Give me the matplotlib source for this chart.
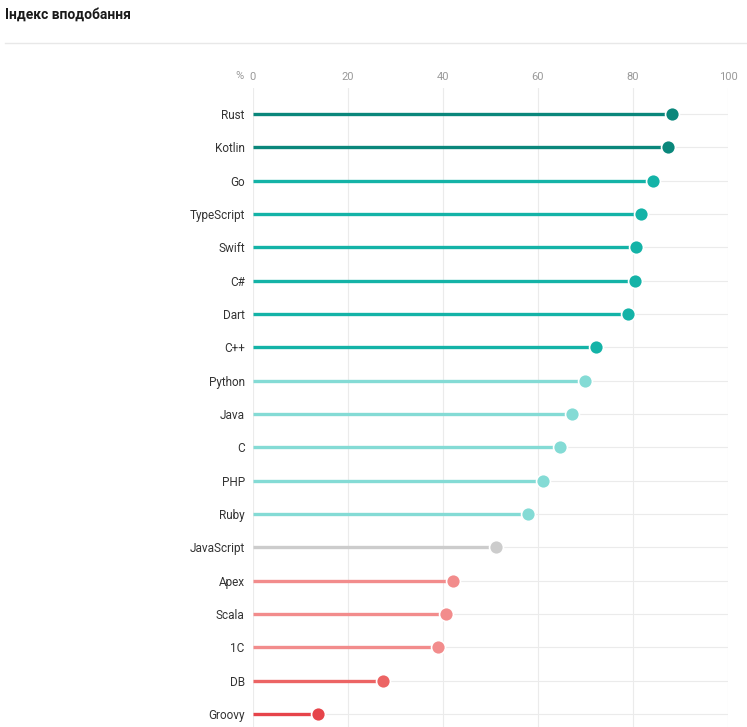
import matplotlib.pyplot as plt

languages = ['Rust', 'Kotlin', 'Go', 'TypeScript', 'Swift', 'C#', 'Dart', 'C++',
             'Python', 'Java', 'C', 'PHP', 'Ruby', 'JavaScript',
             'Apex', 'Scala', '1C', 'DB', 'Groovy']
values = [88.2, 87.4, 84.2, 81.7, 80.6, 80.4, 78.9, 72.2,
          69.9, 67.2, 64.6, 61.1, 57.9, 51.2,
          42.1, 40.6, 38.9, 27.4, 13.7]
colors = ['#0a877b', '#0a877b', '#14b3a7', '#14b3a7', '#14b3a7', '#14b3a7', '#14b3a7', '#14b3a7',
          '#84dbd5', '#84dbd5', '#84dbd5', '#84dbd5', '#84dbd5', '#cccccc',
          '#f28c8c', '#f28c8c', '#f28c8c', '#ec6464', '#e6444a']
xticks = [0, 20, 40, 60, 80, 100]

plt.rcParams['font.family'] = ['Roboto', 'DejaVu Sans']

fig = plt.figure(figsize=(7.47, 7.27), dpi=100)
W, H = 747, 727
ax = fig.add_axes([253 / W, 0, (728 - 253) / W, (727 - 88) / H])

for i, (v, c) in enumerate(zip(values, colors)):
    ax.plot([0, v], [i, i], color=c, lw=2.4, solid_capstyle='butt', zorder=3)
    ax.plot(v, i, 'o', ms=10, color=c, mec='white', mew=1.2, zorder=4)

ax.set_xlim(0, 100)
ax.set_ylim(18.39, -0.78)
ax.set_yticks(range(len(languages)))
ax.set_yticklabels(languages, fontsize=8.5, color='#333333')
ax.set_xticks(xticks)
ax.xaxis.tick_top()
ax.tick_params(axis='x', colors='#999999', labelsize=8, length=0, pad=4)
ax.tick_params(axis='y', length=0, pad=6)
ax.grid(True, color='#ebebeb', lw=0.8, zorder=0)
for s in ax.spines.values():
    s.set_visible(False)

# unit label next to the first tick
fig.text(244 / W, 1 - 76 / H, '%', ha='right', va='center',
         fontsize=8, color='#999999')

fig.text(5 / W, 1 - 15 / H, 'Індекс вподобання', fontsize=10, fontweight='bold',
         color='#1a1a1a', ha='left', va='center')
fig.add_artist(plt.Line2D([5 / W, 1], [1 - 43 / H, 1 - 43 / H], color='#e8e8e8', lw=1))

fig.savefig('out.png', dpi=100)
